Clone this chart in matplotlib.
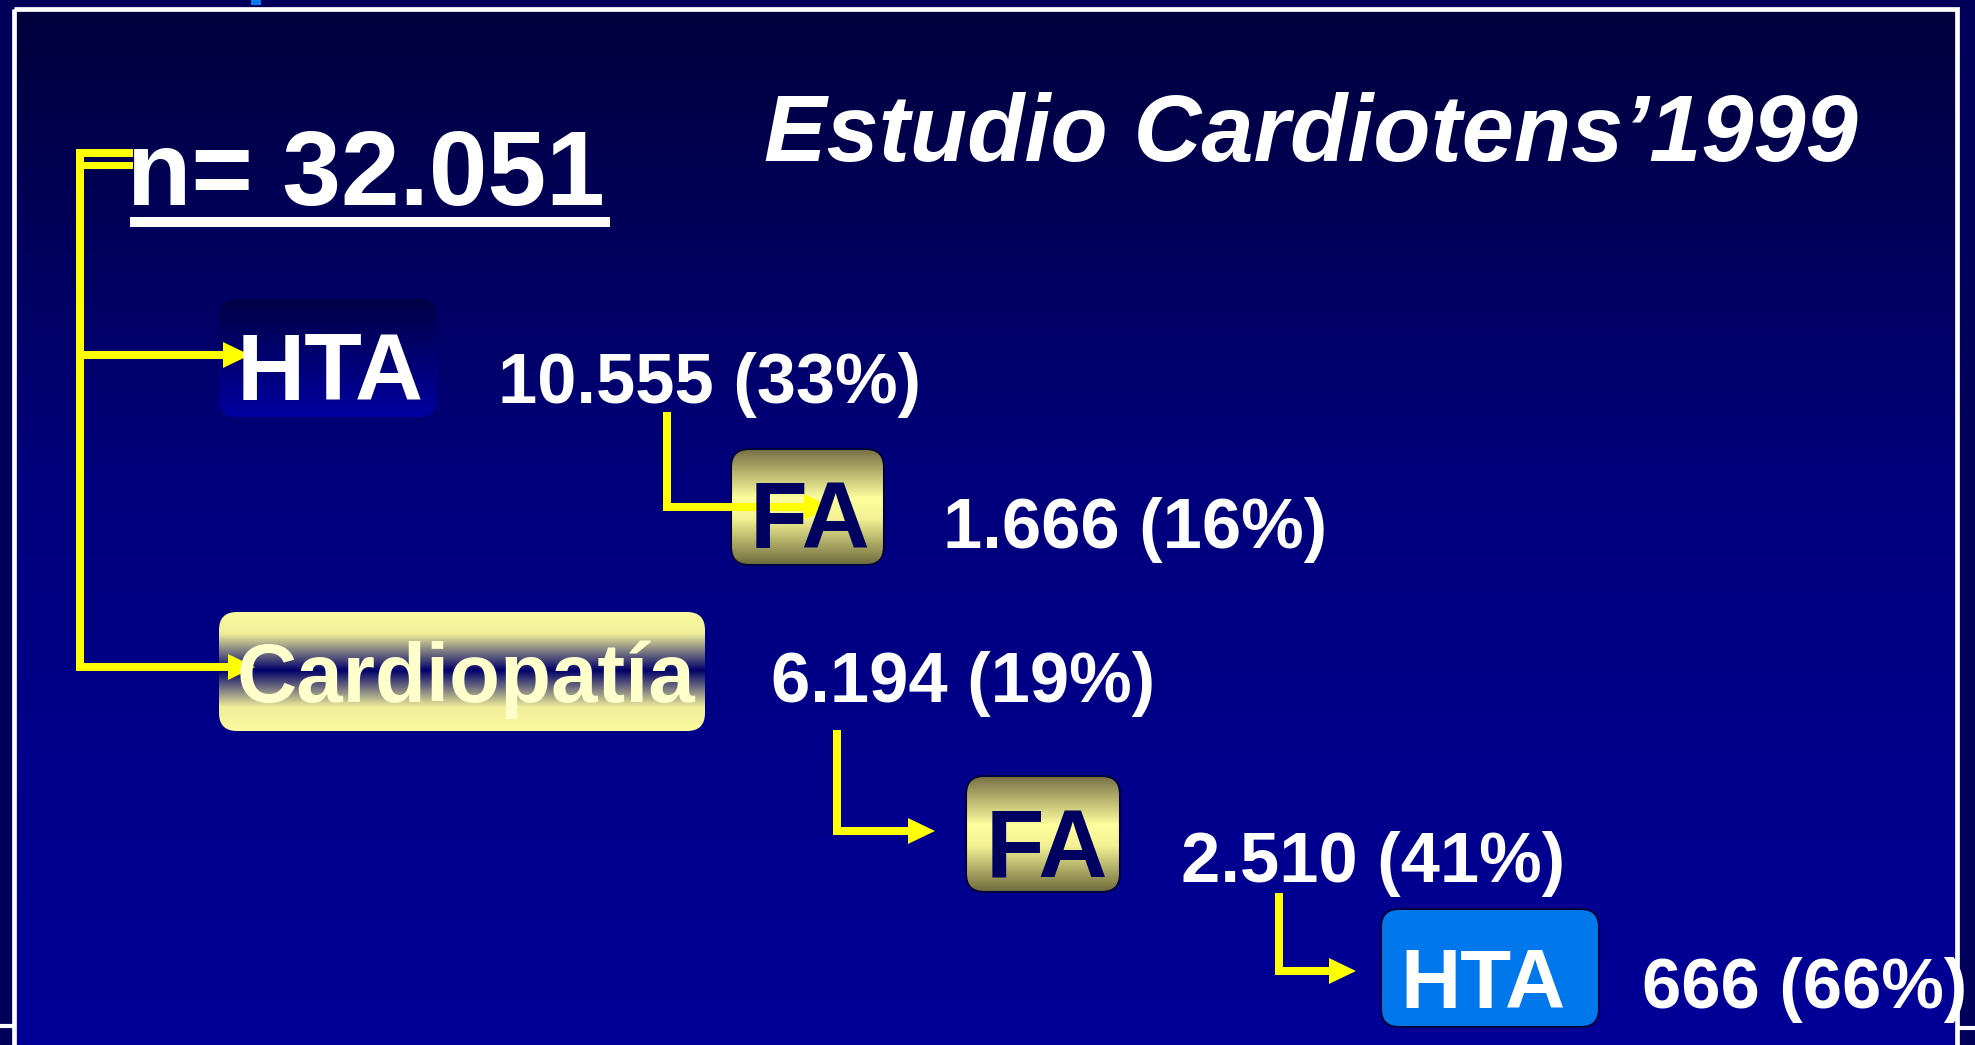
import numpy as np
import matplotlib
matplotlib.use("Agg")
import matplotlib.pyplot as plt
from matplotlib.patches import FancyBboxPatch, Rectangle, Polygon
from matplotlib.colors import LinearSegmentedColormap

plt.rcParams['font.family'] = ['Liberation Sans', 'DejaVu Sans']

# data
title = "Estudio Cardiotens\u20191999"
n_total = 32051
labels = ["HTA", "FA", "Cardiopatía", "FA", "HTA"]
counts = [10555, 1666, 6194, 2510, 666]
pcts = [33, 16, 19, 41, 66]

# layout (pixel coords, y down)
boxes = [(219, 299, 437, 417), (731, 449, 884, 565), (219, 612, 705, 731),
         (966, 776, 1120, 892), (1381, 909, 1599, 1027)]
box_text_x = [330, 810, 466, 1047, 1483]
box_text_y = [400, 548, 702, 877, 1008]
box_text_size = [68, 68, 60, 69, 60]
count_xy = [(498, 403), (943, 548), (771, 702), (1181, 882), (1642, 1008)]
box_styles = ["dark", "gold", "cardio", "gold", "blue"]

YELLOW = "#ffff00"
W, H = 1975, 1045


def fmt(v):
    return f"{v:,}".replace(",", ".")


def gradient(ax, x0, y0, x1, y1, stops, clip=None, z=1):
    cmap = LinearSegmentedColormap.from_list("g", stops)
    arr = np.linspace(0, 1, 256).reshape(-1, 1)
    im = ax.imshow(arr, cmap=cmap, extent=(x0, x1, y1, y0), origin="upper",
                   aspect="auto", interpolation="bilinear", zorder=z)
    if clip is not None:
        im.set_clip_path(clip)
    return im


def arrow(ax, pts, lw=8, head_len=27, head_w=13):
    xs = [p[0] for p in pts]
    ys = [p[1] for p in pts]
    tip = pts[-1]
    xs[-1] = tip[0] - head_len + 2
    ax.plot(xs, ys, color=YELLOW, lw=lw * 0.72, solid_capstyle="butt",
            solid_joinstyle="miter", zorder=6)
    ax.add_patch(Polygon([(tip[0], tip[1]), (tip[0] - head_len, tip[1] - head_w),
                          (tip[0] - head_len, tip[1] + head_w)],
                         closed=True, color=YELLOW, lw=0, zorder=6))


fig = plt.figure(figsize=(W / 100, H / 100), dpi=100, facecolor="#00005a")
ax = fig.add_axes([0, 0, 1, 1])
ax.set_axis_off()

# slide panel
gradient(ax, 13, 8, 1957, H, [(0, "#00003c"), (0.45, "#00007c"), (1, "#000098")], z=0)
ax.add_patch(Rectangle((13.5, 8.5), 1943.5, H + 20, fill=False, ec="white",
                       lw=3.4, zorder=1))
ax.plot([0, 11], [1026, 1026], color="white", lw=3, zorder=1)
ax.plot([1960, W], [1028, 1028], color="white", lw=3, zorder=1)
ax.add_patch(Rectangle((251, 0), 10, 5, color="#0a7af0", lw=0, zorder=1))

# title and total
ax.text(764, 161, title, color="white", fontsize=67.5, fontweight="bold",
        fontstyle="italic", ha="left", va="baseline", zorder=5)
ax.text(127, 205, "n= " + fmt(n_total), color="white", fontsize=76,
        fontweight="bold", ha="left", va="baseline", zorder=5)
ax.add_patch(Rectangle((130, 217), 480, 10, color="white", lw=0, zorder=5))

# boxes
for (x0, y0, x1, y1), style, lab, tx, ty, ts in zip(boxes, box_styles, labels,
                                                     box_text_x, box_text_y,
                                                     box_text_size):
    if style == "blue":
        p = FancyBboxPatch((x0, y0), x1 - x0, y1 - y0,
                           boxstyle="round,pad=0,rounding_size=18",
                           fc="#0078ec", ec="#000040", lw=1.5, zorder=2)
        ax.add_patch(p)
    else:
        p = FancyBboxPatch((x0, y0), x1 - x0, y1 - y0,
                           boxstyle="round,pad=0,rounding_size=18",
                           fc="none", ec="#000040" if style == "gold" else "none",
                           lw=1.5, zorder=3)
        ax.add_patch(p)
        if style == "dark":
            stops = [(0, "#000046"), (1, "#0000a0")]
        elif style == "gold":
            stops = [(0, "#767044"), (0.42, "#fefe9e"), (0.6, "#f4f294"),
                     (1, "#6e6a3c")]
        else:
            stops = [(0, "#fcfba0"), (0.18, "#f0ee98"), (0.49, "#00006a"),
                     (0.8, "#f0ee98"), (1, "#fcfba0")]
        gradient(ax, x0, y0, x1, y1, stops, clip=p, z=2)
    tcol = {"dark": "white", "gold": "#000060", "cardio": "#ffffcc",
            "blue": "white"}[style]
    ax.text(tx, ty, lab, color=tcol, fontsize=ts, fontweight="bold",
            ha="center", va="baseline", zorder=7)

# count labels
for (cx, cy), c, pc in zip(count_xy, counts, pcts):
    ax.text(cx, cy, f"{fmt(c)} ({pc}%)", color="white", fontsize=50.8,
            fontweight="bold", ha="left", va="baseline", zorder=8)

# connectors
ax.plot([80, 80], [149, 671], color=YELLOW, lw=8 * 0.72, solid_capstyle="butt", zorder=6)
ax.add_patch(Rectangle((76, 149), 57, 8, color=YELLOW, lw=0, zorder=6))
ax.add_patch(Rectangle((84, 162), 49, 7, color=YELLOW, lw=0, zorder=6))
arrow(ax, [(80, 355), (250, 355)])
arrow(ax, [(80, 667), (255, 667)])
arrow(ax, [(667, 412), (667, 507), (831, 507)])
arrow(ax, [(837, 730), (837, 831), (935, 831)])
arrow(ax, [(1279, 893), (1279, 971), (1356, 971)])

ax.set_xlim(0, W)
ax.set_ylim(H, 0)
fig.savefig("out.png", dpi=100, facecolor=fig.get_facecolor())
